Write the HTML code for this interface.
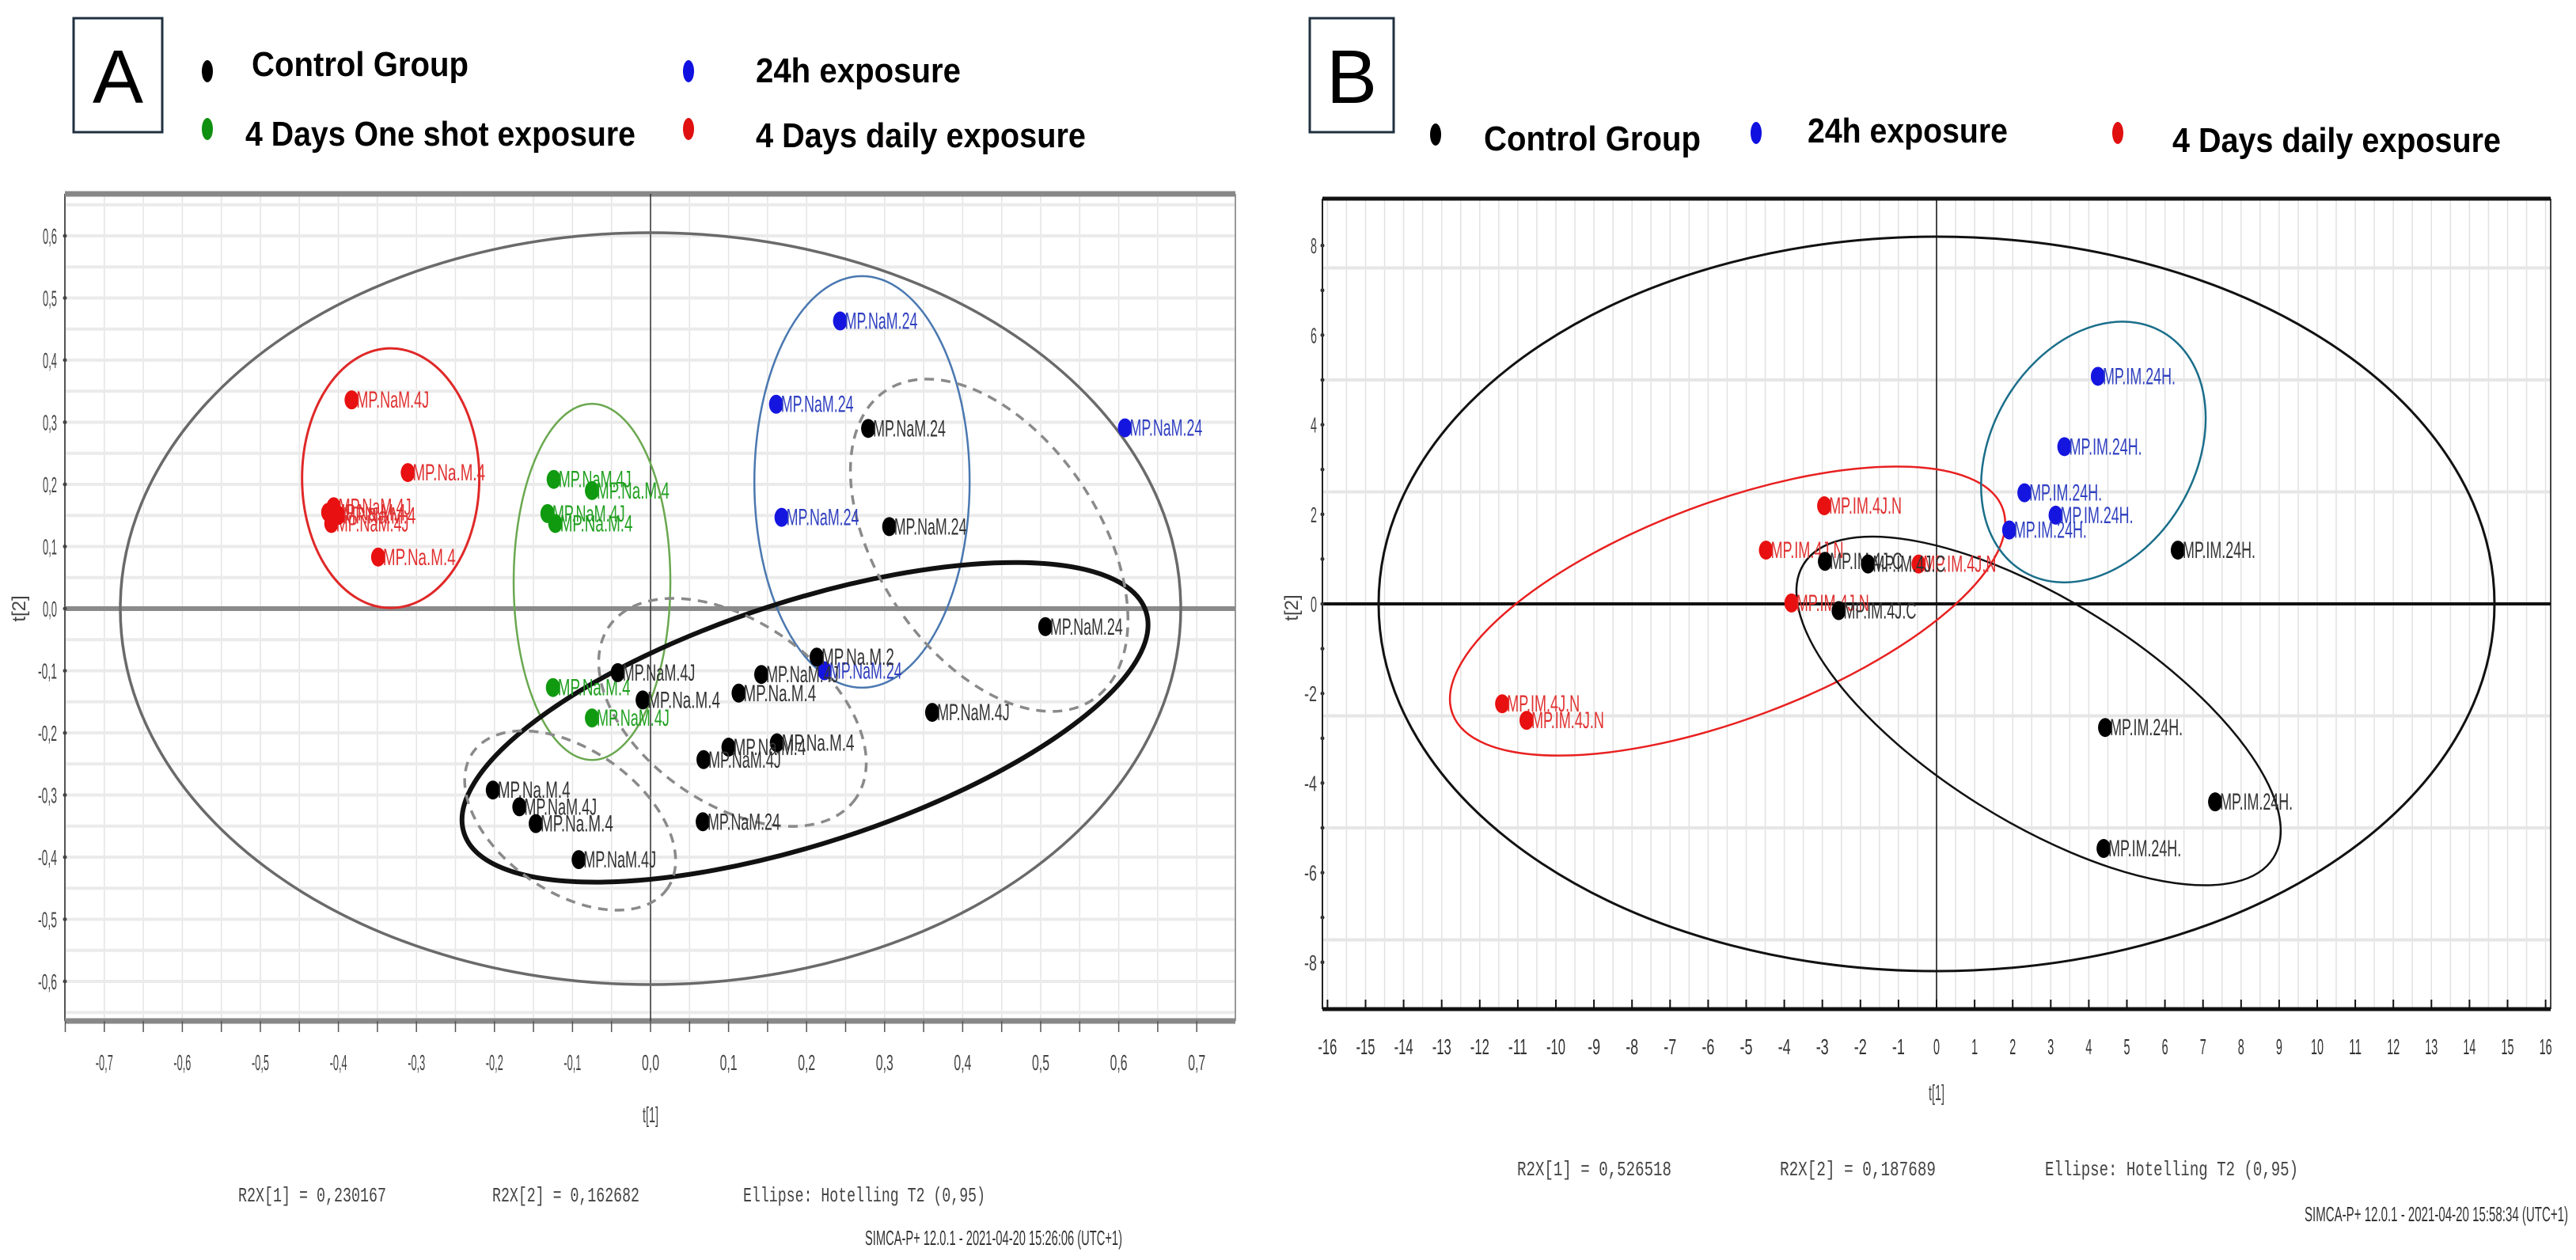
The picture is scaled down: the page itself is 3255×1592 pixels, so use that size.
<!DOCTYPE html>
<html><head><meta charset="utf-8"><style>
html,body{margin:0;padding:0;background:#fff}
svg{display:block}
text{font-family:"Liberation Sans",sans-serif}
.mono{font-family:"Liberation Mono",monospace}
</style></head><body>
<svg id="fig" width="3255" height="1592" viewBox="0 0 3255 1592" xmlns="http://www.w3.org/2000/svg">
<rect width="3255" height="1592" fill="#fff"/>
<g id="gA"></g>
<g id="gB"></g>
</svg>
<script>
// ---------- Panel A data ----------
const aTicksX = [-0.7,-0.6,-0.5,-0.4,-0.3,-0.2,-0.1,0,0.1,0.2,0.3,0.4,0.5,0.6,0.7];
const aTickLabelsX = ["-0,7","-0,6","-0,5","-0,4","-0,3","-0,2","-0,1","0,0","0,1","0,2","0,3","0,4","0,5","0,6","0,7"];
const aTicksY = [0.6,0.5,0.4,0.3,0.2,0.1,0,-0.1,-0.2,-0.3,-0.4,-0.5,-0.6];
const aTickLabelsY = ["0,6","0,5","0,4","0,3","0,2","0,1","0,0","-0,1","-0,2","-0,3","-0,4","-0,5","-0,6"];
const aRedX = [-0.383,-0.311,-0.413,-0.406,-0.409,-0.400,-0.349];
const aRedY = [0.336,0.219,0.155,0.164,0.137,0.150,0.083];
const aRedLab = ["MP.NaM.4J","MP.Na.M.4","MP.Na.M.4","MP.NaM.4J","MP.NaM.4J","MP.Na.M.4","MP.Na.M.4"];
const aGreenX = [-0.124,-0.075,-0.132,-0.122,-0.125,-0.075];
const aGreenY = [0.208,0.190,0.153,0.137,-0.127,-0.176];
const aGreenLab = ["MP.NaM.4J","MP.Na.M.4","MP.NaM.4J","MP.Na.M.4","MP.Na.M.4","MP.NaM.4J"];
const aBlueX = [0.243,0.161,0.168,0.608,0.223];
const aBlueY = [0.463,0.329,0.147,0.291,-0.100];
const aBlueLab = ["MP.NaM.24","MP.NaM.24","MP.NaM.24","MP.NaM.24","MP.NaM.24"];
const aBlackX = [0.279,0.306,0.506,0.213,0.142,0.113,0.361,-0.042,-0.010,0.162,0.100,0.068,0.067,-0.202,-0.168,-0.147,-0.092];
const aBlackY = [0.290,0.132,-0.029,-0.078,-0.106,-0.136,-0.167,-0.103,-0.147,-0.216,-0.223,-0.243,-0.343,-0.292,-0.319,-0.346,-0.404];
const aBlackLab = ["MP.NaM.24","MP.NaM.24","MP.NaM.24","MP.Na.M.2","MP.NaM.4J","MP.Na.M.4","MP.NaM.4J","MP.NaM.4J","MP.Na.M.4","MP.Na.M.4","MP.Na.M.4","MP.NaM.4J","MP.NaM.24","MP.Na.M.4","MP.NaM.4J","MP.Na.M.4","MP.NaM.4J"];
const aEllCX = [0,-0.333,-0.075,0.271,0.198,0.434,0.105,-0.103];
const aEllCY = [0,0.210,0.043,0.204,-0.183,0.102,-0.167,-0.341];

// ---------- Panel B data ----------
const bTicksX = [-16,-15,-14,-13,-12,-11,-10,-9,-8,-7,-6,-5,-4,-3,-2,-1,0,1,2,3,4,5,6,7,8,9,10,11,12,13,14,15,16];
const bTicksY = [8,6,4,2,0,-2,-4,-6,-8];
const bBlueX = [4.24,3.36,2.31,3.13,1.91];
const bBlueY = [5.08,3.51,2.48,1.98,1.65];
const bBlueLab = ["MP.IM.24H.","MP.IM.24H.","MP.IM.24H.","MP.IM.24H.","MP.IM.24H."];
const bBlackX = [6.34,-2.93,-1.80,-2.57,4.43,7.32,4.39];
const bBlackY = [1.20,0.95,0.89,-0.15,-2.76,-4.42,-5.46];
const bBlackLab = ["MP.IM.24H.","MP.IM.4J.C","MP.IM.4J.C","MP.IM.4J.C","MP.IM.24H.","MP.IM.24H.","MP.IM.24H."];
const bRedX = [-2.95,-4.48,-0.47,-3.81,-11.41,-10.77];
const bRedY = [2.19,1.20,0.89,0.02,-2.23,-2.60];
const bRedLab = ["MP.IM.4J.N","MP.IM.4J.N","MP.IM.4J.N","MP.IM.4J.N","MP.IM.4J.N","MP.IM.4J.N"];
const bEllCX = [0,-5.49,4.12,2.68];
const bEllCY = [0,-0.16,3.39,-2.39];

const NS="http://www.w3.org/2000/svg";
function mk(parent,tag,attrs,txt){const e=document.createElementNS(NS,tag);for(const k in attrs)e.setAttribute(k,attrs[k]);if(txt!==undefined)e.textContent=txt;parent.appendChild(e);return e;}

const axA={x:v=>822+v*986,y:v=>769-v*785};
const axB={x:v=>2447+v*48.1,y:v=>763-v*56.6};

// ================= PANEL A =================
const gA=document.getElementById('gA');
let e;
e=mk(gA,'rect',{x:93,y:23,width:112,height:144,fill:'#fff',stroke:'#203040','stroke-width':3});


e=mk(gA,'text',{x:149,y:130,'font-size':96,'text-anchor':'middle',fill:'#000'},'A');


function legend(g,cx,cy,col,tx,ty,tw,label,name){
  const gg=mk(g,'g',{});
  
  
  mk(gg,'ellipse',{cx:cx,cy:cy,rx:7,ry:14,fill:col});
  mk(gg,'text',{x:tx,y:ty,'font-size':44,'font-weight':'bold',fill:'#000',textLength:tw,lengthAdjust:'spacingAndGlyphs'},label);
}
legend(gA,262,90,'#000',318,96,274,'Control Group','legend-a-control');
legend(gA,870,90,'#1010e0',955,104,259,'24h exposure','legend-a-24h');
legend(gA,262,163,'#109010',310,184,493,'4 Days One shot exposure','legend-a-one-shot');
legend(gA,870,163,'#e01010',955,186,417,'4 Days daily exposure','legend-a-daily');

const pA={l:82,r:1561,t:245,b:1290};
e=mk(gA,'rect',{x:pA.l,y:pA.t,width:pA.r-pA.l,height:pA.b-pA.t,fill:'#fff'});


const gridA=mk(gA,'g',{});


for(let v=-0.75;v<=0.76;v+=0.05){const x=axA.x(v);if(x>pA.l&&x<pA.r)mk(gridA,'line',{x1:x,x2:x,y1:pA.t,y2:pA.b,stroke:'#e4e4e4','stroke-width':1.5});}
for(let v=-0.65;v<=0.66;v+=0.05){const y=axA.y(v);if(y>pA.t&&y<pA.b)mk(gridA,'line',{x1:pA.l,x2:pA.r,y1:y,y2:y,stroke:'#ebebeb','stroke-width':4});}
mk(gA,'line',{x1:pA.l,x2:pA.l,y1:pA.t,y2:pA.b,stroke:'#555','stroke-width':2});
mk(gA,'line',{x1:pA.r,x2:pA.r,y1:pA.t,y2:pA.b,stroke:'#999','stroke-width':2});
mk(gA,'line',{x1:pA.l,x2:pA.r,y1:pA.t,y2:pA.t,stroke:'#888','stroke-width':7});
mk(gA,'line',{x1:pA.l,x2:pA.r,y1:pA.b,y2:pA.b,stroke:'#888','stroke-width':7});
e=mk(gA,'line',{x1:pA.l,x2:pA.r,y1:axA.y(0),y2:axA.y(0),stroke:'#8a8a8a','stroke-width':6});


e=mk(gA,'line',{x1:axA.x(0),x2:axA.x(0),y1:pA.t,y2:pA.b,stroke:'#333','stroke-width':1.5});


const xtA=mk(gA,'g',{});


for(let v=-0.75;v<=0.76;v+=0.05){const x=axA.x(v);if(x>pA.l&&x<pA.r)mk(xtA,'line',{x1:x,x2:x,y1:pA.b,y2:pA.b+14,stroke:'#555','stroke-width':1.5});}
aTicksX.forEach((v,i)=>{mk(xtA,'text',{x:axA.x(v),y:1352,'font-size':28,'text-anchor':'middle',fill:'#444',textLength:22,lengthAdjust:'spacingAndGlyphs'},aTickLabelsX[i]);});
const ytA=mk(gA,'g',{});


aTicksY.forEach((v,i)=>{const y=axA.y(v);mk(ytA,'circle',{cx:pA.l,cy:y,r:2.5,fill:'#444'});mk(ytA,'text',{x:72,y:y+10,'font-size':28,'text-anchor':'end',fill:'#444',textLength:aTickLabelsY[i].length*6,lengthAdjust:'spacingAndGlyphs'},aTickLabelsY[i]);});
e=mk(gA,'text',{x:0,y:0,'font-size':24,fill:'#444','text-anchor':'middle',transform:'translate(32,769) rotate(-90)'},'t[2]');


e=mk(gA,'text',{x:822,y:1418,'font-size':28,fill:'#444','text-anchor':'middle',textLength:20,lengthAdjust:'spacingAndGlyphs'},'t[1]');



function ell(g,cx,cy,rx,ry,ang,col,w,dash,name){
  const el=mk(g,'ellipse',{cx:cx,cy:cy,rx:rx,ry:ry,fill:'none',stroke:col,'stroke-width':w,transform:`rotate(${ang} ${cx} ${cy})`});
  if(dash)el.setAttribute('stroke-dasharray',dash);
  
  
}
ell(gA,axA.x(aEllCX[0]),axA.y(aEllCY[0]),670,475,0,'#6a6a6a',3.5,null,'hotelling-ellipse-a');
ell(gA,axA.x(aEllCX[1]),axA.y(aEllCY[1]),112,164,0,'#e02828',3,null,'ellipse-daily-a');
ell(gA,axA.x(aEllCX[2]),axA.y(aEllCY[2]),99,225,0,'#6aa850',2.5,null,'ellipse-one-shot-a');
ell(gA,axA.x(aEllCX[3]),axA.y(aEllCY[3]),136,260,0,'#4a78b0',2.5,null,'ellipse-24h-a');
ell(gA,axA.x(aEllCX[4]),axA.y(aEllCY[4]),453,153,-18,'#111',6,null,'ellipse-control-a');
ell(gA,axA.x(aEllCX[5]),axA.y(aEllCY[5]),235,140,56,'#8a8a8a',3.5,'12 9','dashed-ellipse-1-a');
ell(gA,axA.x(aEllCX[6]),axA.y(aEllCY[6]),190,115,35,'#8a8a8a',3.5,'12 9','dashed-ellipse-2-a');
ell(gA,axA.x(aEllCX[7]),axA.y(aEllCY[7]),150,90,35,'#8a8a8a',3.5,'12 9','dashed-ellipse-3-a');

function points(g,ax,xs,ys,labs,col,lcol,name,cw){
  const gg=mk(g,'g',{});
  
  
  xs.forEach((v,i)=>{
    const x=ax.x(v),y=ax.y(ys[i]);
    const p=mk(gg,'ellipse',{cx:x,cy:y,rx:9,ry:12,fill:col});
    
    
    mk(gg,'text',{x:x+6,y:y+10,'font-size':30,fill:lcol,textLength:labs[i].length*cw,lengthAdjust:'spacingAndGlyphs'},labs[i]);
  });
}
points(gA,axA,aRedX,aRedY,aRedLab,'#e81010','#e03030','series-daily-a',10.2);
points(gA,axA,aGreenX,aGreenY,aGreenLab,'#109a10','#20a020','series-one-shot-a',10.2);
points(gA,axA,aBlueX,aBlueY,aBlueLab,'#1515e0','#3040c0','series-24h-a',10.2);
points(gA,axA,aBlackX,aBlackY,aBlackLab,'#000','#333','series-control-a',10.2);

const fA=mk(gA,'g',{});


mk(fA,'text',{x:301,y:1518,'font-size':26,fill:'#444',class:'mono',textLength:187,lengthAdjust:'spacingAndGlyphs'},'R2X[1] = 0,230167');
mk(fA,'text',{x:622,y:1518,'font-size':26,fill:'#444',class:'mono',textLength:186,lengthAdjust:'spacingAndGlyphs'},'R2X[2] = 0,162682');
mk(fA,'text',{x:939,y:1518,'font-size':26,fill:'#444',class:'mono',textLength:306,lengthAdjust:'spacingAndGlyphs'},'Ellipse: Hotelling T2 (0,95)');
mk(fA,'text',{x:1093,y:1573,'font-size':26,fill:'#333',textLength:325,lengthAdjust:'spacingAndGlyphs'},'SIMCA-P+ 12.0.1 - 2021-04-20 15:26:06 (UTC+1)');

// ================= PANEL B =================
const gB=document.getElementById('gB');
e=mk(gB,'rect',{x:1655,y:23,width:106,height:144,fill:'#fff',stroke:'#203040','stroke-width':3});


e=mk(gB,'text',{x:1708,y:130,'font-size':96,'text-anchor':'middle',fill:'#000'},'B');


legend(gB,1814,170,'#000',1875,190,274,'Control Group','legend-b-control');
legend(gB,2219,168,'#1010e0',2284,180,253,'24h exposure','legend-b-24h');
legend(gB,2676,168,'#e01010',2745,192,415,'4 Days daily exposure','legend-b-daily');

const pB={l:1671,r:3223,t:251,b:1275};
e=mk(gB,'rect',{x:pB.l,y:pB.t,width:pB.r-pB.l,height:pB.b-pB.t,fill:'#fff'});


const gridB=mk(gB,'g',{});


for(let v=-16;v<=16.01;v+=0.5){const x=axB.x(v);if(x>pB.l+2&&x<pB.r-2)mk(gridB,'line',{x1:x,x2:x,y1:pB.t,y2:pB.b,stroke:'#e2e2e2','stroke-width':1.5});}
for(let v=-7.5;v<=7.6;v+=2.5){if(Math.abs(v)<0.1)continue;const y=axB.y(v);mk(gridB,'line',{x1:pB.l,x2:pB.r,y1:y,y2:y,stroke:'#e6e6e6','stroke-width':4});}
mk(gB,'line',{x1:pB.l,x2:pB.l,y1:pB.t,y2:pB.b,stroke:'#222','stroke-width':2});
mk(gB,'line',{x1:pB.r,x2:pB.r,y1:pB.t,y2:pB.b,stroke:'#444','stroke-width':2});
mk(gB,'line',{x1:pB.l,x2:pB.r,y1:pB.t,y2:pB.t,stroke:'#111','stroke-width':5});
mk(gB,'line',{x1:pB.l,x2:pB.r,y1:pB.b,y2:pB.b,stroke:'#111','stroke-width':5});
e=mk(gB,'line',{x1:pB.l,x2:pB.r,y1:axB.y(0),y2:axB.y(0),stroke:'#111','stroke-width':4});


e=mk(gB,'line',{x1:axB.x(0),x2:axB.x(0),y1:pB.t,y2:pB.b,stroke:'#111','stroke-width':1.5});


const xtB=mk(gB,'g',{});


bTicksX.forEach(v=>{const x=axB.x(v);mk(xtB,'line',{x1:x,x2:x,y1:pB.b-12,y2:pB.b,stroke:'#111','stroke-width':2});const s=String(v);mk(xtB,'text',{x:x,y:1332,'font-size':28,'text-anchor':'middle',fill:'#333',textLength:s.length*8,lengthAdjust:'spacingAndGlyphs'},s);});
const ytB=mk(gB,'g',{});


for(let v=-8;v<=8;v++){mk(ytB,'circle',{cx:pB.l,cy:axB.y(v),r:2.5,fill:'#333'});}
bTicksY.forEach(v=>{const y=axB.y(v);const s=String(v);mk(ytB,'text',{x:1664,y:y+10,'font-size':28,'text-anchor':'end',fill:'#444',textLength:s.length*8,lengthAdjust:'spacingAndGlyphs'},s);});
e=mk(gB,'text',{x:0,y:0,'font-size':24,fill:'#444','text-anchor':'middle',transform:'translate(1640,768) rotate(-90)'},'t[2]');


e=mk(gB,'text',{x:2447,y:1390,'font-size':28,fill:'#444','text-anchor':'middle',textLength:20,lengthAdjust:'spacingAndGlyphs'},'t[1]');



ell(gB,axB.x(bEllCX[0]),axB.y(bEllCY[0]),705,464,0,'#111',3,null,'hotelling-ellipse-b');
ell(gB,axB.x(bEllCX[1]),axB.y(bEllCY[1]),371,137,-20.5,'#e82020',2.5,null,'ellipse-daily-b');
ell(gB,axB.x(bEllCX[2]),axB.y(bEllCY[2]),175,129,-60,'#1a6e8a',2.5,null,'ellipse-24h-b');
ell(gB,axB.x(bEllCX[3]),axB.y(bEllCY[3]),350,140,32,'#111',2.5,null,'ellipse-control-b');

points(gB,axB,bRedX,bRedY,bRedLab,'#e81010','#e03030','series-daily-b',9.2);
points(gB,axB,bBlueX,bBlueY,bBlueLab,'#1515e0','#3040c0','series-24h-b',9.2);
points(gB,axB,bBlackX,bBlackY,bBlackLab,'#000','#333','series-control-b',9.2);

const fB=mk(gB,'g',{});


mk(fB,'text',{x:1917,y:1485,'font-size':26,fill:'#444',class:'mono',textLength:195,lengthAdjust:'spacingAndGlyphs'},'R2X[1] = 0,526518');
mk(fB,'text',{x:2249,y:1485,'font-size':26,fill:'#444',class:'mono',textLength:197,lengthAdjust:'spacingAndGlyphs'},'R2X[2] = 0,187689');
mk(fB,'text',{x:2584,y:1485,'font-size':26,fill:'#444',class:'mono',textLength:320,lengthAdjust:'spacingAndGlyphs'},'Ellipse: Hotelling T2 (0,95)');
mk(fB,'text',{x:2912,y:1543,'font-size':26,fill:'#333',textLength:333,lengthAdjust:'spacingAndGlyphs'},'SIMCA-P+ 12.0.1 - 2021-04-20 15:58:34 (UTC+1)');
</script>
</body></html>
